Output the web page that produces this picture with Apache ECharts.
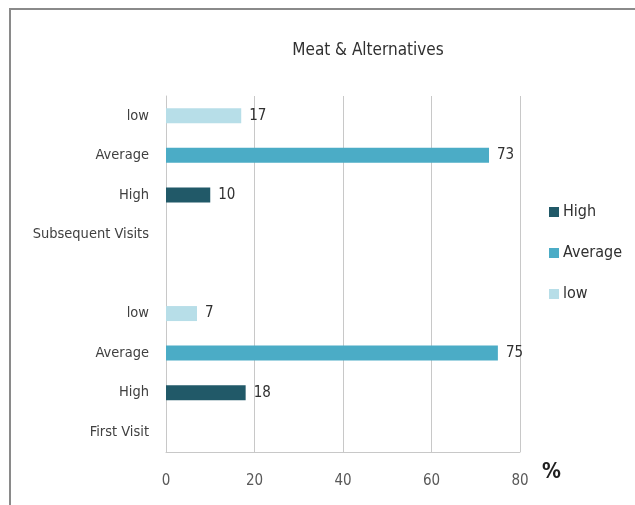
<!DOCTYPE html>
<html>
<head>
<meta charset="utf-8">
<script src="https://cdn.jsdelivr.net/npm/echarts@6/dist/echarts.min.js"></script>
<style>
html,body{margin:0;padding:0;background:#fff;}
#chart{width:635px;height:505px;}
</style>
</head>
<body>
<div id="chart"></div>
<script>
// Categories from bottom to top of the vertical axis
const categories = ['First Visit', 'High', 'Average', 'low', '', 'Subsequent Visits', 'High', 'Average', 'low'];
const highValues    = ['-', 18, '-', '-', '-', '-', 10, '-', '-'];
const averageValues = ['-', '-', 75, '-', '-', '-', '-', 73, '-'];
const lowValues     = ['-', '-', '-', 7, '-', '-', '-', '-', 17];
const xTicks = [0, 20, 40, 60, 80];
const seriesNames = ['High', 'Average', 'low'];

const FONT = '"DejaVu Sans Condensed", "DejaVu Sans", sans-serif';
const colors = ['#215968', '#4bacc6', '#b7dee8'];

const chart = echarts.init(document.getElementById('chart'), null, {renderer: 'canvas'});

function makeSeries(name, values, color) {
  return {
    name: name,
    type: 'bar',
    stack: 'all',
    data: values,
    barWidth: 15,
    itemStyle: {color: color},
    label: {
      show: true,
      position: 'right',
      distance: 8,
      color: '#303030',
      fontFamily: FONT,
      fontSize: 15
    },
    emphasis: {disabled: true},
    animation: false
  };
}

chart.setOption({
  animation: false,
  backgroundColor: '#ffffff',
  title: {
    text: 'Meat & Alternatives',
    left: 363,
    textAlign: 'center',
    top: 37,
    textStyle: {fontFamily: FONT, fontSize: 17, fontWeight: 'normal', color: '#303030'}
  },
  legend: {
    orient: 'vertical',
    left: 544,
    top: 199,
    itemWidth: 10,
    itemHeight: 10,
    itemGap: 25,
    icon: 'rect',
    data: seriesNames,
    textStyle: {fontFamily: FONT, fontSize: 16, color: '#303030', padding: [0, 0, 0, -1]}
  },
  grid: {left: 166, right: 115, top: 96, bottom: 53, containLabel: false},
  xAxis: {
    type: 'value',
    min: xTicks[0],
    max: xTicks[xTicks.length - 1],
    interval: 20,
    name: '%',
    nameLocation: 'end',
    nameGap: 22,
    nameTextStyle: {fontFamily: FONT, fontSize: 21, fontWeight: 'bold', color: '#202020', verticalAlign: 'top', padding: [10, 0, 0, 0]},
    axisLine: {show: true, lineStyle: {color: '#c8c8c8', width: 1}},
    axisTick: {show: false},
    axisLabel: {margin: 22, fontFamily: FONT, fontSize: 15, color: '#595959'},
    splitLine: {show: true, lineStyle: {color: '#c8c8c8', width: 1}}
  },
  yAxis: {
    type: 'category',
    data: categories,
    axisLine: {show: true, lineStyle: {color: '#c8c8c8', width: 1}},
    axisTick: {show: false},
    axisLabel: {margin: 17, fontFamily: FONT, fontSize: 14.5, color: '#404040', interval: 0},
    splitLine: {show: false}
  },
  graphic: [{
    type: 'rect',
    shape: {x: 10, y: 9, width: 700, height: 600},
    style: {fill: 'none', stroke: '#8a8a8a', lineWidth: 2},
    silent: true
  }],
  series: [
    makeSeries(seriesNames[0], highValues, colors[0]),
    makeSeries(seriesNames[1], averageValues, colors[1]),
    makeSeries(seriesNames[2], lowValues, colors[2])
  ]
});
</script>
</body>
</html>
